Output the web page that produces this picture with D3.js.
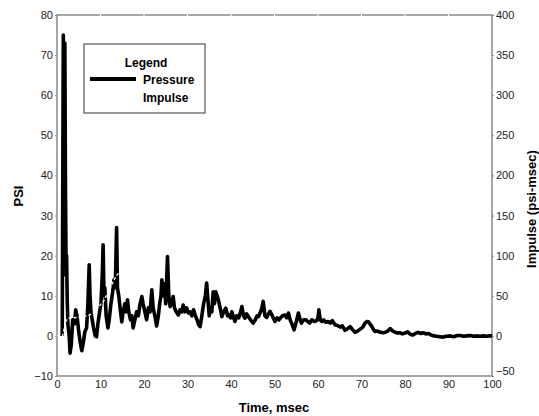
<!DOCTYPE html>
<html><head><meta charset="utf-8">
<script src="https://cdn.jsdelivr.net/npm/d3@7"></script>
<style>body{margin:0;background:#fff}svg{display:block}text{font-family:"Liberation Sans",Arial,sans-serif}</style>
</head><body><svg id="c" width="539" height="416"></svg>
<script>
const pressureT = [1.2,1.45,1.6,1.8,1.95,2.1,2.2,2.35,2.5,2.8,3.0,3.3,3.6,4.0,4.3,4.6,5.0,5.4,5.7,6.0,6.4,6.8,7.1,7.4,7.6,7.8,8.1,8.4,8.8,9.1,9.4,9.8,10.1,10.4,10.6,10.8,11.0,11.3,11.7,12.0,12.4,12.8,13.1,13.4,13.7,13.9,14.2,14.6,14.9,15.2,15.6,15.9,16.2,16.5,16.9,17.2,17.5,17.9,18.3,18.7,19.1,19.5,19.8,20.2,20.6,21.0,21.4,21.8,22.1,22.5,22.9,23.3,23.6,23.9,24.1,24.4,24.7,25.0,25.4,25.7,26.0,26.3,26.7,27.0,27.4,27.9,28.3,28.7,29.0,29.4,29.8,30.2,30.6,31.0,31.4,31.8,32.2,32.6,32.9,33.3,33.7,34.1,34.4,34.7,35.0,35.3,35.6,35.9,36.2,36.5,36.8,37.1,37.5,37.9,38.3,38.8,39.2,39.5,39.9,40.2,40.6,40.9,41.3,41.8,42.2,42.5,42.9,43.2,43.6,44.0,44.5,45.1,45.6,46.0,46.3,46.8,47.1,47.4,47.8,48.2,48.6,49.0,49.5,50.1,50.6,51.0,51.3,51.8,52.4,52.8,53.2,53.6,54.0,54.5,55.0,55.5,55.9,56.2,56.7,57.3,57.7,58.1,58.6,59.2,59.7,60.0,60.2,60.5,60.9,61.3,61.8,62.3,62.8,63.3,63.9,64.5,65.1,65.6,66.2,66.8,67.4,68.0,68.5,69.1,69.7,70.3,70.8,71.2,71.6,72.0,72.4,72.8,73.1,73.7,74.3,75.0,75.5,76.0,76.6,77.1,77.7,78.3,78.8,79.4,80.0,80.6,81.2,81.8,82.4,83.0,83.6,84.2,84.8,85.4,86.0,86.6,87.3,88.0,88.8,89.5,90.4,91.2,92.0,92.7,93.5,94.2,95.0,95.8,96.5,97.3,98.0,98.8,99.5,100];
const pressureV = [0,75,30,73,37,15,20,9,3,0,-4.3,-2,4,3,6.5,5,1,-2,-3.7,-2,1,2,8,17.7,10,6,4,2,0,-0.2,3,6,8,15,22.7,10,12,5,2,4,8,11,14,12,27,12,10,6,3.5,6,8,6,9,6,4,5,2,4,6,5,8,9.8,8,6,4,7,6,11.5,7,5,2.5,5,8,10,14,10,13,8,19.8,10,7.3,8,9.8,7,6,5.2,6.5,6,7.7,6,7,5.7,6,5,6.5,5,4,2.7,2.3,5,8,10,13.2,9,5,7,6,11,8,11,10,9,7,4.8,6,6.9,5,5.3,4.5,6,4.5,3.6,5,4.5,6,7.3,5,4.4,5.5,4.8,4,3.2,4,5,4.8,6,7,8.6,5,4.6,5.5,6.1,5,3.6,4.5,4,4.4,5,5.2,4.5,5.7,4,3,1.5,3.5,5.7,4,3.2,4,4,3.5,3.2,4,3.6,3.8,4.5,6.5,4,3.6,4,3.4,3.6,3.2,3.8,2.8,2.6,2.2,2.5,1.4,1.8,2.3,1.5,0.9,1.2,1.7,2.2,3.2,3.6,3.5,2.9,2.3,1.5,1.1,1.2,0.9,0.8,0.9,1.2,1.8,1.3,0.9,0.7,0.8,0.5,0.7,1,0.4,0.2,0.6,0.9,0.6,0.8,0.5,0.6,0.2,0,-0.1,-0.2,-0.3,-0.1,0,-0.2,0.1,0.1,-0.1,0,0.1,-0.1,0,-0.1,0,-0.1,0,0];
const impulseT = [0,1.3,1.5,2.0,2.5,4.6,7.0,8.3,10.8,13.5,16,20,30,40,50,60,70,80,90,100];
const impulseV = [0,0,5,18,22,23,25,28,44,74,90,115,170,225,270,310,335,345,348,348];
const xTicks = [0,10,20,30,40,50,60,70,80,90,100];
const yLeftTicks = [-10,0,10,20,30,40,50,60,70,80];
const yRightTicks = [-50,0,50,100,150,200,250,300,350,400];

const svg = d3.select("#c");
const L=57,R=492,T=15,B=376;
const x = d3.scaleLinear().domain([0,100]).range([L,R]);
const yL = d3.scaleLinear().domain([-10,80]).range([B,T]);
const yR = d3.scaleLinear().domain([-50,400]).range([B,T]);
const axisCol="#8a8a8a";

svg.append("rect").attr("x",L).attr("y",T).attr("width",R-L).attr("height",B-T)
  .attr("fill","none").attr("stroke",axisCol).attr("stroke-width",1.5);
svg.selectAll(".tt").data(xTicks.slice(1,-1)).join("line")
  .attr("x1",d=>x(d)).attr("x2",d=>x(d)).attr("y1",T-1).attr("y2",T+1)
  .attr("stroke","#fff").attr("stroke-width",1);

const ax = svg.append("g").attr("transform",`translate(0,${B})`).call(d3.axisBottom(x).tickValues(xTicks).tickSize(0).tickPadding(4));
const ayl = svg.append("g").attr("transform",`translate(${L},0)`).call(d3.axisLeft(yL).tickValues(yLeftTicks).tickSize(2).tickPadding(2));
const ayr = svg.append("g").attr("transform",`translate(${R},0)`).call(d3.axisRight(yR).tickValues(yRightTicks).tickSize(2).tickPadding(2));
[ax,ayl,ayr].forEach(g=>{
  g.select(".domain").remove();
  g.selectAll("line").attr("stroke",axisCol);
  g.selectAll("text").attr("font-size",11).attr("fill","#222").attr("font-family","Liberation Sans, Arial, sans-serif");
});
ayr.selectAll("text").filter(d=>d===-50).attr("dy","-0.1em");

const pdata = pressureT.map((t,i)=>[t,pressureV[i]]);
const idata = impulseT.map((t,i)=>[t,impulseV[i]]);
svg.append("path").datum(pdata)
  .attr("d",d3.line().x(d=>x(d[0])).y(d=>yL(d[1])))
  .attr("fill","none").attr("stroke","#000").attr("stroke-width",3.6).attr("stroke-linejoin","round");
svg.append("path").datum(idata)
  .attr("d",d3.line().x(d=>x(d[0])).y(d=>yR(d[1])))
  .attr("fill","none").attr("stroke","#fff").attr("stroke-width",1.3).attr("stroke-dasharray","3,2");

const lg = svg.append("g");
lg.append("rect").attr("x",84).attr("y",44).attr("width",121).attr("height",69)
  .attr("fill","#fff").attr("stroke","#333").attr("stroke-width",1);
lg.append("text").attr("x",146).attr("y",67).attr("text-anchor","middle").attr("font-size",12).attr("font-weight","bold").text("Legend");
lg.append("line").attr("x1",90).attr("x2",136).attr("y1",79).attr("y2",79).attr("stroke","#000").attr("stroke-width",4);
lg.append("text").attr("x",143).attr("y",84).attr("font-size",12).attr("font-weight","bold").text("Pressure");
lg.append("line").attr("x1",90).attr("x2",136).attr("y1",97).attr("y2",97).attr("stroke","#fff").attr("stroke-width",1.3).attr("stroke-dasharray","3,2");
lg.append("text").attr("x",143).attr("y",102).attr("font-size",12).attr("font-weight","bold").text("Impulse");

svg.append("text").attr("transform","translate(23,196) rotate(-90)").attr("text-anchor","middle")
  .attr("font-size",13).attr("font-weight","bold").text("PSI");
svg.append("text").attr("transform","translate(536,209) rotate(-90)").attr("text-anchor","middle")
  .attr("font-size",13).attr("font-weight","bold").text("Impulse (psi-msec)");
svg.append("text").attr("x",274).attr("y",412).attr("text-anchor","middle")
  .attr("font-size",13).attr("font-weight","bold").text("Time, msec");
</script></body></html>
